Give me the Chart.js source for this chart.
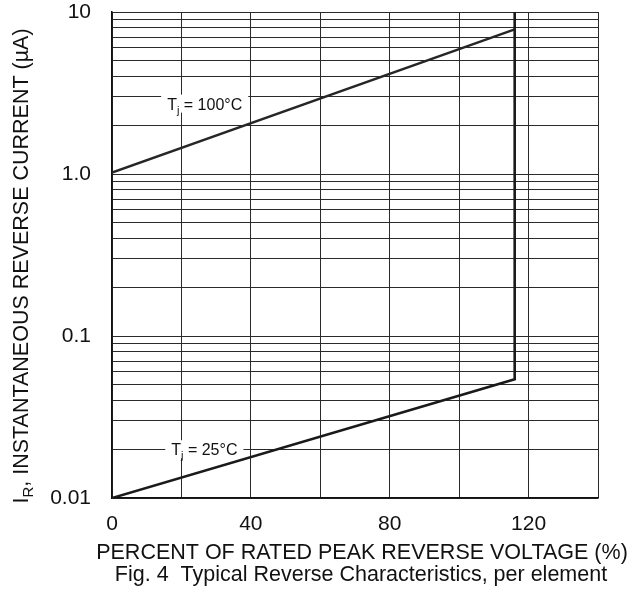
<!DOCTYPE html>
<html>
<head>
<meta charset="utf-8">
<script src="https://cdn.jsdelivr.net/npm/chart.js@4.4.1/dist/chart.umd.min.js"></script>
<style>
  html, body { margin:0; padding:0; background:#fff; }
  #wrap { width:639px; height:591px; position:relative; }
</style>
</head>
<body>
<div id="wrap"><canvas id="chart" width="639" height="591"></canvas></div>
<script>
    // Curves (x = % of rated voltage, y = µA)
    const X_25C  = [0, 116, 116];
    const Y_25C  = [0.01, 0.054, 10];
    const X_100C = [0, 116];
    const Y_100C = [1.02, 7.8];

    // Axis ticks
    const X_GRID    = [0, 20, 40, 60, 80, 100, 120, 140];
    const X_LABELS  = [0, 40, 80, 120];
    const Y_DECADES = [0.01, 0.1, 1, 10];
    const Y_LABELS  = ['0.01', '0.1', '1.0', '10'];
    const Y_MINOR   = [2, 3, 4, 5, 6, 7, 8, 9];

    // Curve labels (anchored in data units)
    const CURVE_LABELS = [
      { main:'T', sub:'j', rest:' = 100°C', x:26.7, y:2.72 },
      { main:'T', sub:'j', rest:' = 25°C',  x:26.6, y:0.02 },
    ];

    const FONT = '"Liberation Sans", Arial, Helvetica, sans-serif';
    const INK = '#111';
    const TITLE_SIZE = 21.5;

    const toPts = (xs, ys) => xs.map((x, i) => ({ x, y: ys[i] }));

    // full log grid: 1..9 per decade, plus the top value
    const yGrid = [];
    Y_DECADES.slice(0, -1).forEach(d => {
      yGrid.push(d);
      Y_MINOR.forEach(m => yGrid.push(+(d * m).toPrecision(6)));
    });
    yGrid.push(Y_DECADES[Y_DECADES.length - 1]);

    // "T" + subscript + rest
    function subTextWidth(ctx, p, size){
      ctx.font = `${size}px ${FONT}`;
      let w = ctx.measureText(p.main).width;
      ctx.font = `${Math.round(size*0.68)}px ${FONT}`;
      w += ctx.measureText(p.sub).width;
      ctx.font = `${size}px ${FONT}`;
      w += ctx.measureText(p.rest).width;
      return w;
    }
    function drawSubText(ctx, p, x, y, size){
      ctx.textAlign = 'left';
      ctx.textBaseline = 'alphabetic';
      ctx.font = `${size}px ${FONT}`;
      ctx.fillText(p.main, x, y);
      x += ctx.measureText(p.main).width;
      ctx.font = `${Math.round(size*0.68)}px ${FONT}`;
      ctx.fillText(p.sub, x, y + size*0.25);
      x += ctx.measureText(p.sub).width;
      ctx.font = `${size}px ${FONT}`;
      ctx.fillText(p.rest, x, y);
    }

    const labelsPlugin = {
      id: 'figLabels',
      beforeDatasetsDraw(chart){
        const { ctx, scales:{ x, y } } = chart;
        ctx.save();
        CURVE_LABELS.forEach(l => {
          const size = 16;
          const w = subTextWidth(ctx, l, size);
          const cx = x.getPixelForValue(l.x);
          const cy = y.getPixelForValue(l.y);
          ctx.fillStyle = '#fff';
          ctx.fillRect(cx - w/2 - 6, cy - 9, w + 12, 18);
          ctx.fillStyle = INK;
          drawSubText(ctx, l, cx - w/2, cy + 6, size);
        });
        ctx.restore();
      },
      afterDraw(chart){
        const { ctx } = chart;
        ctx.save();
        ctx.fillStyle = INK;
        ctx.font = `${TITLE_SIZE}px ${FONT}`;
        ctx.textAlign = 'center';
        ctx.textBaseline = 'middle';
        ctx.fillText('PERCENT OF RATED PEAK REVERSE VOLTAGE (%)', 362, 553);
        ctx.fillText('Fig. 4  Typical Reverse Characteristics, per element', 361, 575);

        // rotated y title with subscript
        const yt = { main:'I', sub:'R', rest:', INSTANTANEOUS REVERSE CURRENT (µA)' };
        const w = subTextWidth(ctx, yt, TITLE_SIZE);
        ctx.translate(28, 266);
        ctx.rotate(-Math.PI/2);
        drawSubText(ctx, yt, -w/2, 0, TITLE_SIZE);
        ctx.restore();
      }
    };

    document.addEventListener('DOMContentLoaded', () => {
      const ctx = document.getElementById('chart').getContext('2d');
      new Chart(ctx, {
        type: 'line',
        data: {
          datasets: [
            {
              label: 'Tj = 25°C',
              data: toPts(X_25C, Y_25C),
              borderColor: '#1a1a1a',
              borderWidth: 2.6,
              pointRadius: 0,
              tension: 0,
              fill: false
            },
            {
              label: 'Tj = 100°C',
              data: toPts(X_100C, Y_100C),
              borderColor: '#262626',
              borderWidth: 2.4,
              pointRadius: 0,
              tension: 0,
              fill: false
            }
          ]
        },
        options: {
          responsive: false,
          animation: false,
          events: [],
          layout: { padding: { top: 12, right: 41, bottom: 0, left: 0 } },
          plugins: { legend: { display:false }, tooltip: { enabled:false } },
          scales: {
            x: {
              type: 'linear',
              min: 0, max: 140,
              afterBuildTicks: s => { s.ticks = X_GRID.map(v => ({ value:v })); },
              afterFit: s => { s.height = 93; s.paddingLeft = 0; s.paddingRight = 0; },
              grid: { color:'#2a2a2a', lineWidth:1, drawTicks:false },
              border: { display:true, color:INK, width:1.5 },
              ticks: {
                autoSkip:false, maxRotation:0, padding:14,
                color: INK, font: { family:FONT, size:21 },
                callback: v => X_LABELS.includes(v) ? String(v) : ''
              }
            },
            y: {
              type: 'logarithmic',
              min: 0.01, max: 10,
              afterBuildTicks: s => { s.ticks = yGrid.map(v => ({ value:v })); },
              afterFit: s => { s.width = 112; s.paddingTop = 0; s.paddingBottom = 0; },
              grid: { color:'#2a2a2a', lineWidth:1, drawTicks:false },
              border: { display:true, color:INK, width:1.5 },
              ticks: {
                autoSkip:false, padding:21,
                color: INK, font: { family:FONT, size:21 },
                callback: v => {
                  const i = Y_DECADES.findIndex(d => Math.abs(d - v) < 1e-9);
                  return i >= 0 ? Y_LABELS[i] : '';
                }
              }
            }
          }
        },
        plugins: [labelsPlugin]
      });
    });
</script>
</body>
</html>
